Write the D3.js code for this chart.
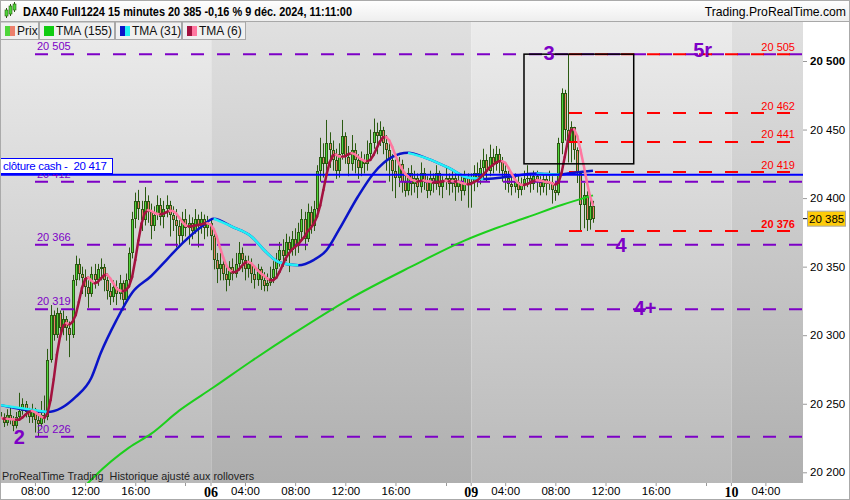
<!DOCTYPE html>
<html><head><meta charset="utf-8">
<script src="https://cdn.jsdelivr.net/npm/d3@7/dist/d3.min.js"></script>
<style>body{margin:0;background:#fff;}svg{display:block;font-family:"Liberation Sans",Arial,sans-serif;}</style>
</head><body><svg id="c" width="850" height="500"></svg>
<script>
// ---------- DATA ----------
const title = "DAX40 Full1224 15 minutes 20 385 -0,16 % 9 déc. 2024, 11:11:00";
const site = "Trading.ProRealTime.com";
const legendItems = ["Prix", "TMA (155)", "TMA (31)", "TMA (6)"];
// slots: 15-minute bars, 83 per session (01:15-22:00); day 05 starts at slot 0, 06 at 83, 09 at 166, 10 at 249
const firstSlot05 = 16, firstSlot06 = 83, firstSlot09 = 166;
const closes05 = [20240,20236,20242,20238,20234,20240,20245,20250,20244,20240,20246,20238,20235,20242,20240,
 20282,20315,20300,20316,20305,20312,20305,20300,20340,20352,20345,
 20342,20335,20330,20345,20340,20348,20350,20340,20332,20328,20335,20330,20338,20326,20340,
 20360,20385,20398,
 20392,20384,20398,20390,20380,20388,20395,20386,20392,20395,20388,20384,
 20380,20372,20385,20378,20382,20376,20385,20380,20385,20378,20382];
const highs05 = [20247,20243,20246,20248,20241,20244,20258,20254,20252,20247,20250,20247,20244,20252,20256,
 20290,20322,20318,20320,20318,20318,20314,20310,20344,20358,20356,
 20350,20348,20340,20350,20352,20352,20356,20352,20344,20338,20340,20340,20344,20340,20345,
 20364,20390,20404,
 20406,20398,20408,20402,20396,20394,20402,20400,20398,20402,20398,20394,
 20392,20384,20390,20392,20388,20386,20392,20388,20390,20388,20387];
const lows05 = [20236,20233,20234,20235,20230,20232,20238,20242,20240,20236,20236,20229,20226,20233,20236,
 20238,20280,20296,20298,20300,20300,20296,20284,20298,20336,20340,
 20330,20328,20320,20328,20334,20336,20340,20332,20326,20322,20324,20322,20326,20318,20324,
 20336,20356,20378,
 20384,20376,20380,20382,20370,20376,20384,20380,20378,20386,20372,20376,
 20364,20366,20368,20372,20366,20370,20374,20364,20374,20370,20372];
const closes06 = [20372,20355,20348,20352,20345,20340,20350,20345,20352,20360,20355,20348,20352,20345,20340,
 20348,20340,20336,20338,20342,20348,20355,20362,20358,20368,20362,20370,20365,
 20375,20385,20370,20390,20380,20392,20420,20430,
 20425,20440,20435,20428,20420,20432,20445,20430,20425,20435,20428,
 20422,20428,20425,20432,20440,20448,20445,20450,20440,
 20435,20428,20420,20415,20425,20412,20405,20418,
 20410,20415,20408,20418,20412,20405,20415,20410,20418,20408,
 20412,20415,20410,20415,20408,20412,20405,20415,20410];
const highs06 = [20384,20374,20360,20360,20356,20350,20354,20356,20360,20368,20364,20358,20358,20356,20350,
 20352,20350,20346,20345,20350,20354,20360,20368,20370,20374,20372,20376,20378,
 20382,20392,20390,20396,20394,20398,20424,20444,
 20440,20457,20448,20442,20436,20440,20457,20448,20438,20446,20440,
 20432,20434,20432,20442,20450,20458,20455,20456,20452,
 20446,20440,20432,20428,20430,20428,20418,20422,
 20424,20420,20418,20426,20422,20416,20420,20418,20424,20420,
 20416,20422,20418,20420,20418,20418,20416,20420,20418];
const lows06 = [20362,20348,20338,20340,20340,20332,20336,20340,20342,20348,20346,20340,20342,20338,20334,
 20336,20333,20332,20332,20336,20338,20342,20350,20350,20354,20346,20358,20358,
 20360,20370,20362,20368,20374,20376,20390,20412,
 20415,20420,20422,20420,20414,20415,20428,20425,20416,20420,20418,
 20414,20416,20418,20420,20428,20436,20432,20438,20432,
 20420,20412,20405,20400,20408,20404,20401,20402,
 20402,20404,20400,20404,20406,20400,20402,20404,20406,20402,
 20400,20406,20402,20404,20398,20404,20398,20402,20393];
const closes09 = [20412,20418,20415,20422,20428,20420,20430,20425,20432,20426,
 20420,20415,20410,20408,20412,20406,20410,20414,
 20415,20410,20416,20412,20408,20414,20410,20412,20406,20404,
 20440,20477,20450,20440,20452,20435,20418,20395,20402,20384,20394,20385];
const highs09 = [20418,20424,20426,20428,20436,20432,20439,20436,20438,20436,
 20430,20424,20420,20416,20418,20416,20415,20420,
 20424,20418,20420,20420,20416,20418,20418,20420,20416,20412,
 20444,20480,20479,20505,20456,20452,20437,20418,20411,20405,20400,20398];
const lows09 = [20393,20405,20408,20410,20414,20412,20416,20418,20420,20418,
 20412,20406,20404,20402,20404,20400,20402,20406,
 20408,20404,20406,20404,20402,20404,20402,20406,20396,20398,
 20402,20432,20442,20426,20426,20428,20411,20376,20378,20376,20377,20382];
// TMA(31) (slot, value)
const tma31Slots = [16,31,40,45,48,53,58,64,69,74,80,84,90,96,101,105,111,116,120,124,130,135,141,146,152,159,165,170,176,187,194,197,205];
const tma31Vals  = [20249,20244,20255,20269,20287,20311,20331,20343,20355,20367,20379,20385,20379,20372,20360,20353,20351,20355,20362,20377,20401,20418,20430,20433,20429,20422,20415,20414,20415,20418,20417,20418,20420];
// TMA(155)
const tma155Slots = [43,46,57,64,73,84,96,110,127,147,164,174,184,195,205];
const tma155Vals  = [20190,20197,20218,20228,20245,20262,20281,20302,20326,20350,20369,20378,20386,20395,20402];
// horizontal levels
const purpleLevels = [20505,20412,20366,20319,20226];
const redLevels = [20505,20462,20441,20419,20376];
const cashClose = 20417;
const lastPrice = 20385;
const yTicks = [20200,20250,20300,20350,20400,20450,20500];
const xTickSlots  = [27,43,59,83,94,110,126,142,166,177,193,209,225,249,260];
const xTickLabels = ["08:00","12:00","16:00","06","04:00","08:00","12:00","16:00","09","04:00","08:00","12:00","16:00","10","04:00"];
const xMinorSlots = [75,158,241];
const waveLabels = [
  {t:"3", v:20501, s:191, a:"middle"},
  {t:"5r", v:20503, s:240, a:"middle"},
  {t:"4", v:20361, s:214, a:"middle"},
  {t:"4+", v:20315, s:218, a:"start"},
  {t:"2", v:20221, s:22, a:"middle"}];
const boxSlots = [183, 218], boxVals = [20505, 20425];

// ---------- SCALES ----------
const svg = d3.select("#c");
const PL = 0, PR = 803, PT = 21, PB = 483;
const x = d3.scaleLinear().domain([83,166]).range([210.5,470.7]);
const y = d3.scaleLinear().domain([20200,20500]).range([472.3,61]);

const defs = svg.append("defs");
function grad(id, c1, c2){
  const g = defs.append("linearGradient").attr("id",id).attr("x1",0).attr("y1",0).attr("x2",0).attr("y2",1);
  g.append("stop").attr("offset","0%").attr("stop-color",c1);
  g.append("stop").attr("offset","100%").attr("stop-color",c2);
}
grad("gl","#ececec","#b9b9b9");
grad("gd","#e0e0e0","#afafaf");
grad("gh","#ffffff","#eeeeee");
defs.append("clipPath").attr("id","clip").append("rect").attr("x",PL).attr("y",PT).attr("width",PR-PL).attr("height",PB-PT);

// background bands by day
const bounds = [PL, x(83)+0.8, x(166)+0.8, x(249)+0.8, PR];
for (let i=0;i<4;i++){
  svg.append("rect").attr("x",bounds[i]).attr("y",PT).attr("width",bounds[i+1]-bounds[i]).attr("height",PB-PT)
    .attr("fill", i%2===0 ? "url(#gl)" : "url(#gd)");
}

const plot = svg.append("g").attr("clip-path","url(#clip)");

// bars
const bars = [];
function addDay(first,c,h,l){ c.forEach((v,i)=>bars.push({slot:first+i,c:v,h:h[i],l:l[i]})); }
addDay(firstSlot05,closes05,highs05,lows05);
addDay(firstSlot06,closes06,highs06,lows06);
addDay(firstSlot09,closes09,highs09,lows09);
bars.forEach((b,i)=>{ b.o = i ? bars[i-1].c : 20244; });

const dark = "#2b5a12";
const cg = plot.append("g");
bars.forEach(b=>{
  const cx = Math.round(x(b.slot));
  cg.append("line").attr("x1",cx+0.5).attr("x2",cx+0.5).attr("y1",y(b.h)).attr("y2",y(b.l)).attr("stroke",dark).attr("stroke-width",1);
  const top = Math.round(y(Math.max(b.o,b.c))), bot = Math.round(y(Math.min(b.o,b.c)));
  const hgt = Math.max(1, bot-top);
  cg.append("rect").attr("x",cx-1).attr("y",top).attr("width",3).attr("height",hgt).attr("fill",dark);
  if (hgt>2) cg.append("rect").attr("x",cx).attr("y",top+1).attr("width",1).attr("height",hgt-2)
      .attr("fill", b.c>=b.o ? "#4fd63a" : "#ec7f6c");
});

// horizontal levels
const purple = "#7d00c6";
purpleLevels.forEach(v=>{
  plot.append("line").attr("x1",35).attr("x2",PR).attr("y1",y(v)).attr("y2",y(v))
    .attr("stroke",purple).attr("stroke-width",2).attr("stroke-dasharray","13,13");
});
redLevels.forEach(v=>{
  plot.append("line").attr("x1",569).attr("x2",PR).attr("y1",y(v)).attr("y2",y(v))
    .attr("stroke","#ff0000").attr("stroke-width",2).attr("stroke-dasharray","13,13");
});

// TMA 155
const lineM = d3.line().x(d=>x(d[0])).y(d=>y(d[1])).curve(d3.curveMonotoneX);
const t155 = tma155Slots.map((s,i)=>[s,tma155Vals[i]]);
plot.append("path").attr("d",lineM(t155)).attr("fill","none").attr("stroke","#1ccf1c").attr("stroke-width",2);

// TMA 31: full line in blue, falling runs overlaid in cyan
const t31 = tma31Slots.map((s,i)=>[s,tma31Vals[i]]);
plot.append("path").attr("d",lineM(t31)).attr("fill","none").attr("stroke","#0a14c8").attr("stroke-width",2.5);
let run=[];
for(let i=1;i<t31.length;i++){
  const down = t31[i][1] < t31[i-1][1];
  if(down){ if(!run.length) run.push(t31[i-1]); run.push(t31[i]); }
  if((!down || i===t31.length-1) && run.length>1){
    plot.append("path").attr("d",lineM(run)).attr("fill","none").attr("stroke","#22f0f4").attr("stroke-width",2.5);
    run=[];
  } else if(!down) run=[];
}

// horizontal cash close line
plot.append("line").attr("x1",PL).attr("x2",PR).attr("y1",y(cashClose)).attr("y2",y(cashClose))
  .attr("stroke","#0000ff").attr("stroke-width",2);

// TMA 6 computed from closes
const cl = bars.map(b=>b.c);
const sma=(a,n)=>a.map((_,i)=>d3.mean(a.slice(Math.max(0,i-n+1),i+1)));
const t6 = sma(sma(cl,4),3);
for(let i=1;i<bars.length;i++){
  plot.append("line").attr("x1",x(bars[i-1].slot)).attr("y1",y(t6[i-1])).attr("x2",x(bars[i].slot)).attr("y2",y(t6[i]))
    .attr("stroke", t6[i]>=t6[i-1] ? "#a3123f" : "#ff77a0").attr("stroke-width",2.5).attr("stroke-linecap","round");
}

// black rectangle
svg.append("rect").attr("x",x(boxSlots[0])).attr("y",y(boxVals[0])).attr("width",x(boxSlots[1])-x(boxSlots[0]))
  .attr("height",y(boxVals[1])-y(boxVals[0])).attr("fill","none").attr("stroke","#000").attr("stroke-width",1.5);

// level labels
const fmt = v => d3.format(",")(v).replace(","," ");
purpleLevels.forEach(v=>{
  svg.append("text").attr("x",37).attr("y",y(v)-4).attr("font-size",11).attr("fill",purple).text(fmt(v));
});
redLevels.forEach(v=>{
  svg.append("text").attr("x",795).attr("y",y(v)-3.5).attr("text-anchor","end").attr("font-size",11)
    .attr("font-weight", v===20376 ? "bold":"normal").attr("fill","#ff0000").text(fmt(v));
});
waveLabels.forEach(w=>{
  svg.append("text").attr("x",x(w.s)).attr("y",y(w.v)).attr("text-anchor",w.a).attr("font-size",20)
    .attr("font-weight","bold").attr("fill",purple).text(w.t);
});

// cash close box
svg.append("rect").attr("x",0.5).attr("y",158.5).attr("width",112).attr("height",15).attr("fill","#fff").attr("stroke","#0000ff").attr("stroke-width",1);
svg.append("text").attr("x",3).attr("y",170).attr("font-size",11.5).attr("fill","#0000ff").attr("textLength",104).attr("lengthAdjust","spacing")
  .text("clôture cash -\u00a0\u00a0" + fmt(cashClose));

// bottom note
svg.append("text").attr("x",2).attr("y",480).attr("font-size",10.8).attr("fill","#222").text("ProRealTime Trading  Historique ajusté aux rollovers".replace("  ","\u00a0 "));

// right axis
svg.append("rect").attr("x",PR).attr("y",PT).attr("width",850-PR).attr("height",500-PT).attr("fill","#fff");
const ya = svg.append("g").attr("transform",`translate(${PR},0)`)
  .call(d3.axisRight(y).tickValues(yTicks).tickSize(4).tickPadding(3).tickFormat(fmt));
ya.select(".domain").remove();
ya.selectAll("line").attr("stroke","#999");
ya.selectAll("text").attr("font-size",11.5).attr("fill","#000").attr("font-family","Liberation Sans, Arial")
  .attr("font-weight",d=>d===20500?"bold":"normal");
// last price tag
svg.append("line").attr("x1",PR).attr("x2",PR+5).attr("y1",y(lastPrice)).attr("y2",y(lastPrice)).attr("stroke","#000");
svg.append("rect").attr("x",807.5).attr("y",y(lastPrice)-7.5).attr("width",38).attr("height",15).attr("fill","#fdcb0a").attr("stroke","#aaa");
svg.append("text").attr("x",809).attr("y",y(lastPrice)+4).attr("font-size",11.5).attr("fill","#000").text(fmt(lastPrice));

// bottom axis
svg.append("rect").attr("x",0).attr("y",PB).attr("width",850).attr("height",500-PB).attr("fill","#fff");
const xa = svg.append("g").attr("transform",`translate(0,${PB})`)
  .call(d3.axisBottom(x).tickValues(xTickSlots).tickSize(3).tickPadding(1).tickFormat((d,i)=>xTickLabels[i]));
xa.select(".domain").remove();
xa.selectAll("line").attr("stroke","#999");
xa.selectAll("text").attr("font-size",11.5).attr("fill","#000").attr("font-family","Liberation Sans, Arial")
  .each(function(d,i){ if(xTickLabels[i].length===2){ d3.select(this).attr("font-family","Liberation Serif, serif").attr("font-weight","bold").attr("font-size",14); } });
xMinorSlots.forEach(s=>svg.append("line").attr("x1",Math.round(x(s))+0.5).attr("x2",Math.round(x(s))+0.5).attr("y1",PB).attr("y2",PB+3).attr("stroke","#999"));

// header
svg.append("rect").attr("x",0).attr("y",0).attr("width",850).attr("height",21).attr("fill","url(#gh)");
svg.append("line").attr("x1",0).attr("x2",850).attr("y1",21.5).attr("y2",21.5).attr("stroke","#a8a8a8");
const ic = svg.append("g");
[[6,8,6,"#4fd63a"],[10,4,8,"#4fd63a"],[14,2,6,"#4fd63a"]].forEach(d=>{
  ic.append("line").attr("x1",d[0]+0.5).attr("x2",d[0]+0.5).attr("y1",d[1]).attr("y2",d[1]+d[2]+4).attr("stroke",dark);
  ic.append("rect").attr("x",d[0]-1).attr("y",d[1]+2).attr("width",3).attr("height",d[2]).attr("fill",d[3]).attr("stroke",dark).attr("stroke-width",0.6);
});
svg.append("text").attr("x",23).attr("y",15.5).attr("font-size",12.5).attr("font-weight","bold").attr("fill","#000")
  .attr("textLength",329).attr("lengthAdjust","spacingAndGlyphs").text(title);
svg.append("text").attr("x",846).attr("y",15.5).attr("text-anchor","end").attr("font-size",12.2).attr("fill","#000").text(site);

// legend
const legW = [39,76,67,64];
const legCols = [["#4fd63a","#ec7f6c"],["#11cc11","#11cc11"],["#0a14c8","#22f0f4"],["#a3123f","#ff77a0"]];
let lx = 0;
legendItems.forEach((t,i)=>{
  svg.append("rect").attr("x",lx+0.5).attr("y",22).attr("width",legW[i]-1).attr("height",17.5).attr("fill","#f0f0f0").attr("stroke","#a8a8a8");
  svg.append("text").attr("x",lx+17).attr("y",35).attr("font-size",12).attr("fill","#111").text(t);
  svg.append("rect").attr("x",lx+5).attr("y",26).attr("width",5).attr("height",10).attr("fill",legCols[i][0]);
  svg.append("rect").attr("x",lx+10).attr("y",26).attr("width",5).attr("height",10).attr("fill",legCols[i][1]);
  lx += legW[i];
});

// frame
svg.append("rect").attr("x",0.5).attr("y",0.5).attr("width",849).attr("height",499).attr("fill","none").attr("stroke","#aaa");
</script></body></html>
